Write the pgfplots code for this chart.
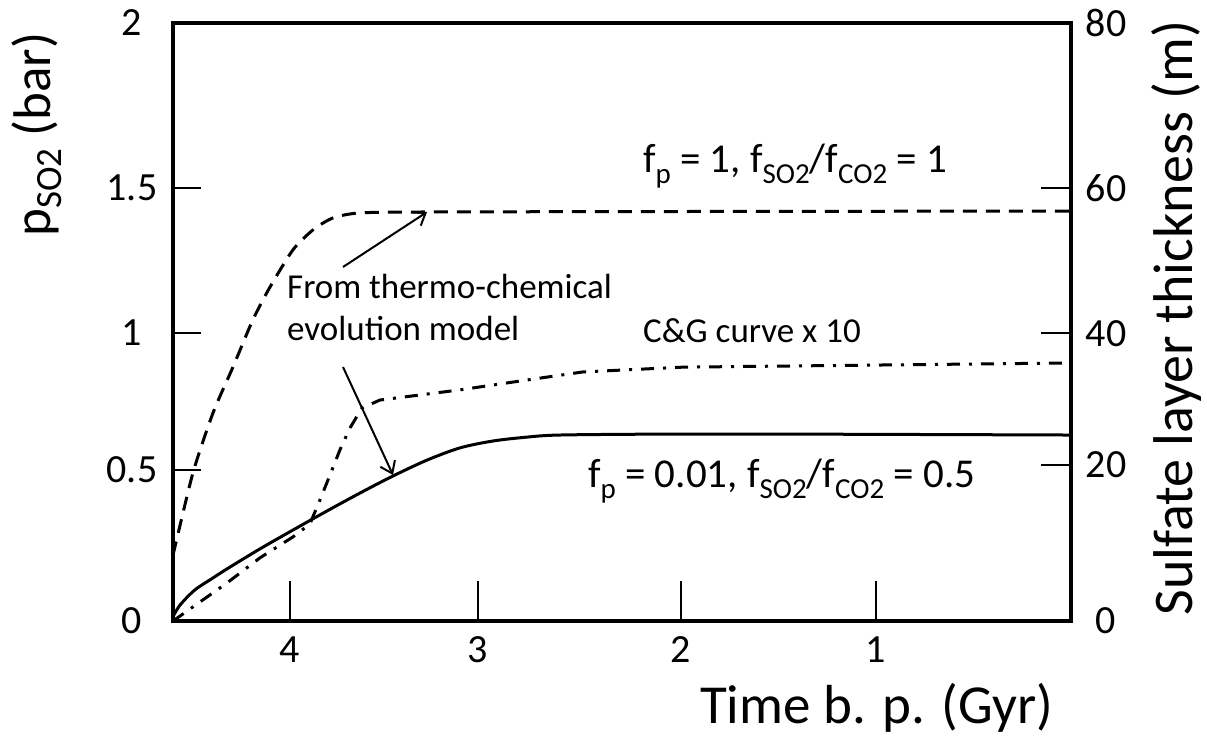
\documentclass[border=0pt]{standalone}
\usepackage{fontspec}
\setmainfont{Carlito}
\usepackage{pgfplots}
\pgfplotsset{compat=1.18}
\usetikzlibrary{arrows.meta}
\newcommand\fsz[1]{\fontsize{#1}{#1}\selectfont}
\newcommand\sub[1]{\raisebox{-11pt}{\fsz{29}#1}}
\begin{document}
\begin{tikzpicture}
\begin{axis}[
  at={(0pt,0pt)}, anchor=south west,
  scale only axis, width=898pt, height=598pt,
  xmin=0, xmax=4.6, x dir=reverse, ymin=0, ymax=2,
  axis line style={line width=4pt, black},
  xtick={1,2,3.04,4}, xticklabels={1,2,3,4},
  ytick={0,0.505,0.963,1.448,2}, yticklabels={0,0.5,1,1.5,2},
  xtick pos=bottom, ytick pos=left,
  tick align=inside,
  xtick style={/pgfplots/major tick length=40pt, line width=2pt, black},
  ytick style={/pgfplots/major tick length=28pt, line width=2pt, black},
  tick label style={font=\fsz{40}},
  xticklabel style={anchor=center, yshift=-29pt},
  yticklabel style={anchor=center, xshift=-41pt},
  clip=false,
]
% f_p = 1 (dashed)
\addplot[black, line width=3pt, dash pattern=on 14pt off 9pt, smooth, tension=0.4] coordinates {
(4.60,0.22) (4.498,0.495) (4.395,0.696) (4.293,0.849) (4.191,1.007)
(4.103,1.117) (3.986,1.241) (3.883,1.308) (3.781,1.348) (3.642,1.365)
(3.299,1.368) (2.50,1.369) (1.50,1.370) (0.005,1.371)};
% f_p = 0.01 (solid)
\addplot[black, line width=3pt, smooth, tension=0.5] coordinates {
(4.60,0.015) (4.57,0.048) (4.53,0.078) (4.48,0.108) (4.40,0.142)
(4.324,0.174) (4.155,0.241) (3.986,0.304)
(3.811,0.368) (3.642,0.428) (3.473,0.485) (3.299,0.538) (3.130,0.579)
(2.961,0.602) (2.787,0.615) (2.618,0.622) (2.106,0.625) (1.388,0.625)
(0.005,0.622)};
% C&G curve x 10 (dash-dot)
\addplot[black, line width=3pt, dash pattern=on 13pt off 9pt on 3pt off 9pt] coordinates {
(4.60,0.0) (4.498,0.047) (4.324,0.127) (4.155,0.211) (3.986,0.281)
(3.899,0.324) (3.847,0.405) (3.796,0.488) (3.745,0.572) (3.694,0.645)
(3.632,0.712) (3.540,0.739) (3.130,0.773) (2.787,0.806) (2.500,0.833)
(1.988,0.849) (0.005,0.863)};
\end{axis}
\begin{axis}[
  at={(0pt,0pt)}, anchor=south west,
  scale only axis, width=898pt, height=598pt,
  xmin=0, xmax=4.6, x dir=reverse, ymin=0, ymax=80,
  axis x line=none, axis y line*=right,
  y axis line style={line width=4pt, black},
  ytick={0,20.9,38.5,57.9,80}, yticklabels={0,20,40,60,80},
  tick align=inside,
  ytick style={/pgfplots/major tick length=30pt, line width=2pt, black},
  tick label style={font=\fsz{40}},
  yticklabel style={anchor=center, xshift=35pt},
]
\end{axis}
% axis labels
\node[rotate=90, anchor=base west, inner sep=0pt] at (-122pt,384pt)
  {\fsz{53}p\raisebox{-11pt}{\fsz{37}SO2} (bar)};
\node[rotate=90, anchor=base, inner sep=0pt] at (1019pt,303pt)
  {\fsz{56}Sulfate layer thickness (m)};
\node[anchor=base west, inner sep=0pt] at (527pt,-102pt)
  {\fsz{55}Time b. p. (Gyr)};
% annotations
\node[anchor=base, inner sep=0pt] at (622pt,448pt)
  {\fsz{41}f\sub{p} = 1, f\sub{SO2}/f\sub{CO2} = 1};
\node[anchor=base west, inner sep=0pt] at (470pt,279pt)
  {\fsz{35}C\&G curve x 10};
\node[anchor=base west, inner sep=0pt] at (415pt,134pt)
  {\fsz{41}f\sub{p} = 0.01, f\sub{SO2}/f\sub{CO2} = 0.5};
\node[anchor=base west, inner sep=0pt] at (114pt,323pt)
  {\fsz{35}From thermo-chemical};
\node[anchor=base west, inner sep=0pt] at (114pt,281pt)
  {\fsz{35}evolution model};
\draw[line width=2pt, -{Straight Barb[length=11pt,width=16pt,line width=2pt]}] (170pt,354pt) -- (254pt,409pt);
\draw[line width=2pt, -{Straight Barb[length=11pt,width=16pt,line width=2pt]}] (170pt,254pt) -- (220pt,146pt);
\pgfresetboundingbox
\path[use as bounding box] (-173pt,-119pt) rectangle (1034pt,621pt);
\end{tikzpicture}
\end{document}
